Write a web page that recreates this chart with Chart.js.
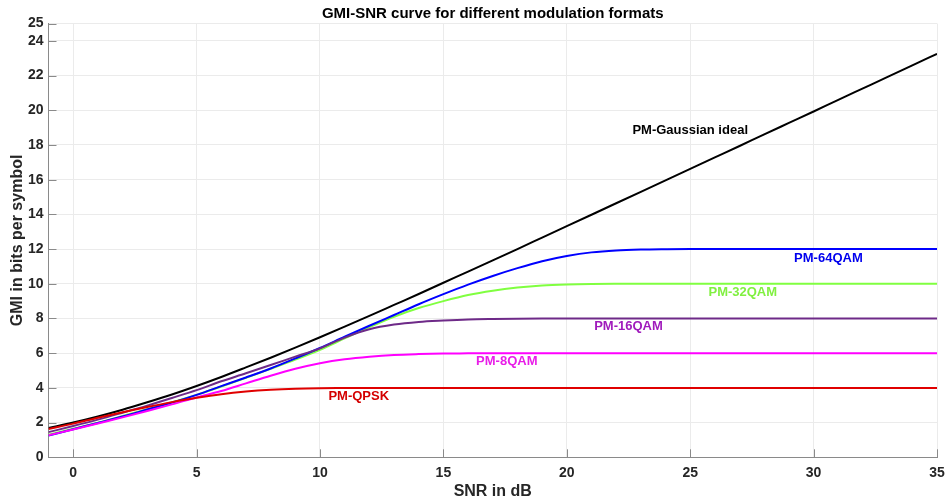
<!DOCTYPE html>
<html>
<head>
<meta charset="utf-8">
<script src="https://cdn.jsdelivr.net/npm/chart.js@4/dist/chart.umd.min.js"></script>
<style>
  html, body { margin: 0; padding: 0; background: #ffffff; }
  #wrap { width: 947px; height: 501px; position: relative; }
</style>
</head>
<body>
<div id="wrap"><canvas id="c"></canvas></div>
<script>
// ---- data ----
const snr = [-1,0,1,2,3,4,5,6,7,8,9,10,11,12,13,14,15,16,17,18,19,20,21,22,23,24,25,26,27,28,29,30,31,32,33,34,35];

const gaussian = [1.69,2.0,2.35,2.74,3.17,3.62,4.11,4.63,5.18,5.74,6.32,6.92,7.53,8.15,8.78,9.41,10.06,10.70,11.35,12.00,12.66,13.32,13.98,14.64,15.30,15.96,16.62,17.28,17.94,18.61,19.27,19.93,20.60,21.26,21.92,22.59,23.25];
const qam64 = [1.25,1.62,1.98,2.35,2.75,3.15,3.6,4.1,4.6,5.12,5.7,6.3,6.95,7.58,8.2,8.82,9.4,9.95,10.45,10.9,11.3,11.6,11.81,11.92,11.97,11.99,12,12,12,12,12,12,12,12,12,12,12];
const qam32 = [1.3,1.65,2.0,2.38,2.77,3.17,3.6,4.08,4.58,5.1,5.63,6.2,6.85,7.5,8.1,8.6,9.0,9.35,9.6,9.78,9.9,9.96,9.99,10,10,10,10,10,10,10,10,10,10,10,10,10,10];
const qam16 = [1.45,1.8,2.17,2.57,2.98,3.42,3.87,4.38,4.84,5.32,5.8,6.28,6.9,7.38,7.65,7.8,7.88,7.94,7.97,7.99,8,8,8,8,8,8,8,8,8,8,8,8,8,8,8,8,8];
const qam8 = [1.27,1.6,1.95,2.3,2.67,3.05,3.45,3.82,4.26,4.7,5.1,5.42,5.65,5.8,5.9,5.95,5.98,5.99,6,6,6,6,6,6,6,6,6,6,6,6,6,6,6,6,6,6,6];
const qpsk = [1.63,1.94,2.28,2.6,2.9,3.18,3.43,3.64,3.79,3.89,3.95,3.98,3.99,4,4,4,4,4,4,4,4,4,4,4,4,4,4,4,4,4,4,4,4,4,4,4,4];

const xTicks = [0,5,10,15,20,25,30,35];
const yTicks = [0,2,4,6,8,10,12,14,16,18,20,22,24,25];

const titleText = 'GMI-SNR curve for different modulation formats';
const labelTexts = ['PM-Gaussian ideal','PM-64QAM','PM-32QAM','PM-16QAM','PM-8QAM','PM-QPSK'];
const labelX = [25.0, 30.6, 27.13, 22.5, 17.57, 11.57];
const labelY = [18.86, 11.44, 9.48, 7.52, 5.5, 3.48];
const labelColors = ['#000000','#0000ee','#80f040','#a01cbc','#e81ee8','#d40000'];

// ---- chart ----
const FONT = "'Liberation Sans', Arial, Helvetica, sans-serif";
function mk(label, arr, color, order) {
  return {
    label: label,
    data: snr.map((x, i) => ({x: x, y: arr[i]})),
    borderColor: color,
    backgroundColor: color,
    borderWidth: 2,
    pointRadius: 0,
    cubicInterpolationMode: 'monotone',
    fill: false,
    order: order
  };
}

const inwardTicks = {
  id: 'inwardTicks',
  afterDatasetsDraw(chart) {
    const {ctx, chartArea, scales} = chart;
    ctx.save();
    ctx.strokeStyle = '#8a8a8a';
    ctx.lineWidth = 1;
    ctx.beginPath();
    yTicks.forEach(v => {
      const y = Math.round(scales.y.getPixelForValue(v)) + 0.5;
      ctx.moveTo(chartArea.left, y);
      ctx.lineTo(chartArea.left + 8, y);
    });
    xTicks.forEach(v => {
      const x = Math.round(scales.x.getPixelForValue(v)) + 0.5;
      ctx.moveTo(x, chartArea.bottom);
      ctx.lineTo(x, chartArea.bottom - 8);
    });
    ctx.stroke();
    ctx.restore();
  }
};

const textLayer = {
  id: 'textLayer',
  afterDatasetsDraw(chart) {
    const {ctx, scales, chartArea} = chart;
    ctx.save();
    ctx.textAlign = 'center';
    ctx.textBaseline = 'middle';
    ctx.font = "bold 15px " + FONT;
    ctx.fillStyle = '#000000';
    ctx.fillText(titleText, (chartArea.left + chartArea.right) / 2, 13.5);
    ctx.font = "bold 13px " + FONT;
    labelTexts.forEach((t, i) => {
      ctx.fillStyle = labelColors[i];
      ctx.fillText(t, scales.x.getPixelForValue(labelX[i]), scales.y.getPixelForValue(labelY[i]));
    });
    ctx.restore();
  }
};

new Chart(document.getElementById('c'), {
  type: 'line',
  data: {
    datasets: [
      mk('PM-QPSK', qpsk, '#e00000', 1),
      mk('PM-8QAM', qam8, '#ff00ff', 2),
      mk('PM-16QAM', qam16, '#6e2a88', 3),
      mk('PM-64QAM', qam64, '#0000ff', 4),
      mk('PM-32QAM', qam32, '#80ff40', 5),
      mk('PM-Gaussian ideal', gaussian, '#000000', 6)
    ]
  },
  options: {
    responsive: true,
    maintainAspectRatio: false,
    animation: false,
    layout: { padding: { left: 0, right: 10, top: 23.5, bottom: 0 } },
    plugins: {
      legend: { display: false },
      tooltip: { enabled: false },
      title: { display: false }
    },
    scales: {
      x: {
        type: 'linear',
        min: -1,
        max: 35,
        afterBuildTicks: s => { s.ticks = xTicks.map(v => ({value: v})); },
        afterFit: s => { s.height = 43.7; s.paddingRight = 0; s.paddingLeft = 0; },
        grid: { color: '#ebebeb', lineWidth: 1, drawTicks: false },
        border: { color: '#8a8a8a', width: 1 },
        ticks: {
          padding: 7,
          color: '#262626',
          autoSkip: false,
          maxRotation: 0,
          font: { family: FONT, size: 14, weight: 'bold' }
        },
        title: {
          display: true,
          text: 'SNR in dB',
          color: '#262626',
          font: { family: FONT, size: 16, weight: 'bold' },
          padding: { top: 0, bottom: 0 }
        }
      },
      y: {
        type: 'linear',
        min: 0,
        max: 25,
        afterBuildTicks: s => { s.ticks = yTicks.map(v => ({value: v})); },
        afterFit: s => { s.width = 48.5; s.paddingTop = 0; s.paddingBottom = 0; },
        grid: { color: '#ebebeb', lineWidth: 1, drawTicks: false },
        border: { color: '#8a8a8a', width: 1 },
        ticks: {
          padding: 5,
          color: '#262626',
          autoSkip: false,
          font: { family: FONT, size: 14, weight: 'bold' }
        },
        title: {
          display: true,
          text: 'GMI in bits per symbol',
          color: '#262626',
          font: { family: FONT, size: 16, weight: 'bold' },
          padding: { top: 8, bottom: 0 }
        }
      }
    }
  },
  plugins: [inwardTicks, textLayer]
});
</script>
</body>
</html>
